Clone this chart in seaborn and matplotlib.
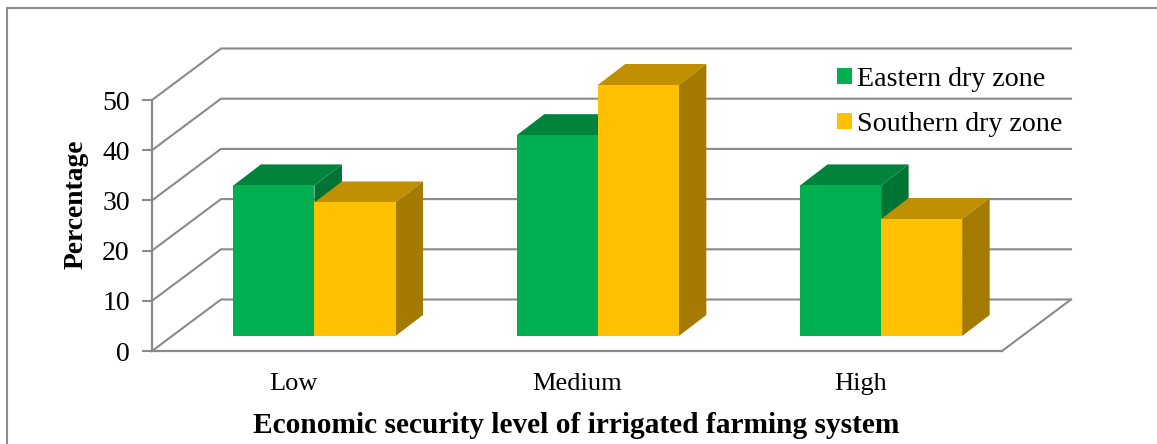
import matplotlib
matplotlib.use("Agg")
import matplotlib.pyplot as plt
from matplotlib.lines import Line2D
from matplotlib.patches import Polygon
import pandas as pd
import seaborn as sns

# Survey results by security level and zone
levels = ["Low", "Medium", "High"]
eastern_values = [30, 40, 30]
southern_values = [26.6, 50, 23.3]
zones = ["Eastern dry zone", "Southern dry zone"]
y_ticks = [0, 10, 20, 30, 40, 50]

front_colors = ["#00B050", "#FFC000"]
top_colors = ["#00843C", "#C09000"]
side_colors = ["#007434", "#A47B00"]
GRID = "#8A8A8A"

W, H = 1157, 444
sns.set_theme(style="white")
plt.rcParams["font.family"] = ["Liberation Serif", "DejaVu Serif"]
plt.rcParams["text.color"] = "black"
plt.rcParams["axes.labelcolor"] = "black"
plt.rcParams["xtick.labelcolor"] = "black"
plt.rcParams["ytick.labelcolor"] = "black"

df = pd.DataFrame({
    "level": levels * 2,
    "percentage": eastern_values + southern_values,
    "zone": [zones[0]] * 3 + [zones[1]] * 3,
})

fig = plt.figure(figsize=(W / 100, H / 100), dpi=100)

# Axes box of the front plane, in pixels
left, bottom_y, ax_w, ax_h = 152, 351, 850, 251
wall_ax = fig.add_axes([left / W, (H - bottom_y) / H, ax_w / W, ax_h / H])
# Bars stand a little way back from the front edge of the floor
bar_dx, bar_dy = 20.8, 15
bar_ax = fig.add_axes([(left + bar_dx) / W, (H - bottom_y + bar_dy) / H, ax_w / W, ax_h / H])

px_x = 3 / ax_w   # category units per pixel
px_y = 50 / ax_h  # percent per pixel

# Floor, back wall and slanted gridlines
depth_x, depth_y = 69 * px_x, 51.5 * px_y
wall_ax.set_xlim(-0.5, 2.5)
wall_ax.set_ylim(0, 50)
line_style = dict(color=GRID, lw=1.5, clip_on=False, solid_capstyle="projecting", zorder=1)
for v in y_ticks:
    wall_ax.plot([-0.5, -0.5 + depth_x, 2.5 + depth_x], [v, v + depth_y, v + depth_y], **line_style)
wall_ax.plot([2.5, 2.5 + depth_x], [0, depth_y], **line_style)

wall_ax.set_xticks(range(3), levels)
wall_ax.set_yticks(y_ticks)
wall_ax.tick_params(axis="x", length=0, pad=16, labelsize=19)
wall_ax.tick_params(axis="y", length=7, width=1.5, color=GRID, pad=9, labelsize=20, left=True)
wall_ax.patch.set_visible(False)
for name, spine in wall_ax.spines.items():
    spine.set_visible(name in ("left", "bottom"))
    spine.set_color(GRID)
    spine.set_linewidth(1.6)
wall_ax.set_xlabel("Economic security level of irrigated farming system",
                   fontsize=21.2, fontweight="bold", va="center")
wall_ax.xaxis.set_label_coords((576 - left) / ax_w, -(425 - bottom_y) / ax_h)
wall_ax.set_ylabel("Percentage", fontsize=19.8, fontweight="bold", va="center")
wall_ax.yaxis.set_label_coords((76 - left) / ax_w, (bottom_y - 204) / ax_h)

# Front faces of the bars
sns.barplot(data=df, x="level", y="percentage", hue="zone", order=levels, hue_order=zones,
            palette=front_colors, saturation=1, width=0.572, gap=0, dodge=True,
            linewidth=0, ax=bar_ax)
bar_ax.set_xlim(-0.5, 2.5)
bar_ax.set_ylim(0, 50)
bar_ax.patch.set_visible(False)

# Extrude each front face with a top and a side polygon
ex, ey = 27.5 * px_x, 21 * px_y
for z, container in enumerate(bar_ax.containers):
    for bar in container:
        bar.set_zorder(4 + 2 * z)
        x0, x1 = bar.get_x(), bar.get_x() + bar.get_width()
        h = bar.get_height()
        bar_ax.add_patch(Polygon([(x0, h), (x1, h), (x1 + ex, h + ey), (x0 + ex, h + ey)],
                                 closed=True, fc=top_colors[z], ec="none", clip_on=False, zorder=3 + 2 * z))
        bar_ax.add_patch(Polygon([(x1, 0), (x1 + ex, ey), (x1 + ex, h + ey), (x1, h)],
                                 closed=True, fc=side_colors[z], ec="none", clip_on=False, zorder=3 + 2 * z))
        bar.set_clip_on(False)

handles, labels = bar_ax.get_legend_handles_labels()
bar_ax.legend(handles, labels, loc="upper left",
              bbox_to_anchor=(837 / W, (H - 67) / H), bbox_transform=fig.transFigure,
              frameon=False, fontsize=20.2, handlelength=0.52, handleheight=0.52,
              handletextpad=0.2, labelspacing=0.7, borderpad=0, borderaxespad=0)
bar_ax.set_axis_off()

# Outer chart frame
for xs, ys in (([7, 7], [8, H]), ([7, W], [8, 8])):
    fig.add_artist(Line2D([x / W for x in xs], [1 - y / H for y in ys],
                          color="#8C8C8C", lw=1.5, transform=fig.transFigure))

fig.savefig("out.png", dpi=100, facecolor="white")
